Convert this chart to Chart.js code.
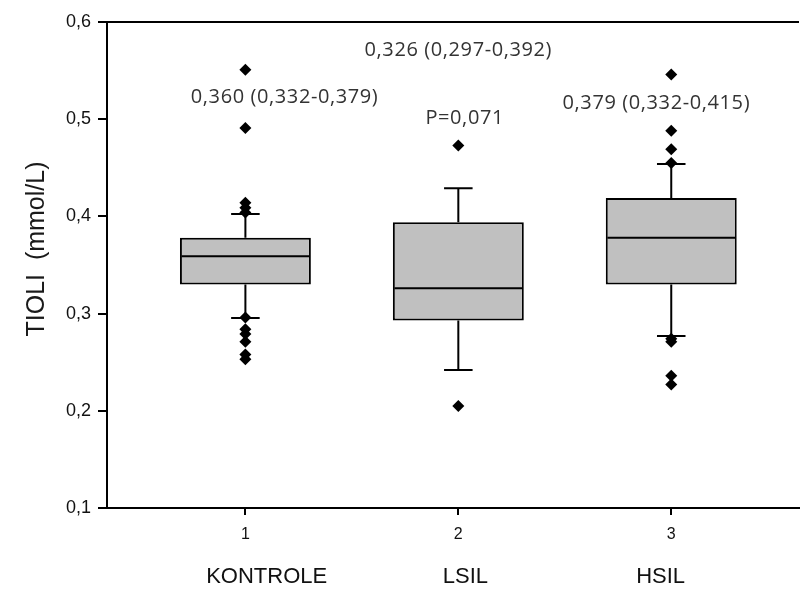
<!DOCTYPE html>
<html lang="hr">
<head>
    <meta charset="UTF-8">
    <title>TIOLI boxplot</title>
    <script src="https://cdn.jsdelivr.net/npm/chart.js"></script>
    <style>
        body { margin: 0; background: #fff; }
        #wrap { width: 805px; height: 589px; }
    </style>
</head>
<body>
    <div id="wrap"><canvas id="tioliChart" width="805" height="589"></canvas></div>

    <script>
    // podaci ocitani sa slike
    const groups = ['KONTROLE', 'LSIL', 'HSIL'];
    const xPos = [1, 2, 3];
    const q1 = [0.330, 0.293, 0.330];
    const median = [0.359, 0.326, 0.378];
    const q3 = [0.378, 0.394, 0.419];
    const whiskerLow = [0.2955, 0.242, 0.277];
    const whiskerHigh = [0.4025, 0.429, 0.454];
    const outliers = [
        [0.404, 0.409, 0.414, 0.491, 0.551, 0.296, 0.284, 0.279, 0.271, 0.258, 0.253],
        [0.473, 0.205],
        [0.455, 0.469, 0.488, 0.546, 0.274, 0.271, 0.236, 0.227]
    ];
    const yTicks = [0.1, 0.2, 0.3, 0.4, 0.5, 0.6];
    const notes = ['0,360 (0,332-0,379)', '0,326 (0,297-0,392)', 'P=0,071', '0,379 (0,332-0,415)'];
    const noteX = [1.184, 2.0, 2.03, 2.93];
    const noteY = [0.523, 0.571, 0.501, 0.516];
    const groupLabelX = [1.1, 2.033, 2.95];

    const boxHalf = 0.3;
    const capHalf = 0.067;

    const fmt = v => v.toFixed(1).replace('.', ',');

    // segmenti linija, razdvojeni praznom tockom
    function segs(list) {
        const out = [];
        list.forEach(([xa, ya, xb, yb]) => {
            out.push({ x: xa, y: ya }, { x: xb, y: yb }, { x: xb, y: null });
        });
        return out;
    }

    const medianLines = segs(xPos.map((x, i) => [x - boxHalf, median[i], x + boxHalf, median[i]]));
    const whiskerLines = segs(xPos.flatMap((x, i) => [
        [x, q3[i], x, whiskerHigh[i]],
        [x, q1[i], x, whiskerLow[i]],
        [x - capHalf, whiskerHigh[i], x + capHalf, whiskerHigh[i]],
        [x - capHalf, whiskerLow[i], x + capHalf, whiskerLow[i]]
    ]));
    const outlierPoints = xPos.flatMap((x, i) => outliers[i].map(v => ({ x: x, y: v })));

    const extrasPlugin = {
        id: 'extras',
        afterDraw(chart) {
            const { ctx, chartArea: { top, left, right, bottom }, scales: { x, y } } = chart;
            ctx.save();
            ctx.strokeStyle = '#000';
            ctx.lineWidth = 2;
            // gornji rub
            ctx.beginPath();
            ctx.moveTo(left - 1, top);
            ctx.lineTo(right, top);
            ctx.stroke();
            // crtice na osi x
            ctx.beginPath();
            xPos.forEach(v => {
                const px = Math.round(x.getPixelForValue(v));
                ctx.moveTo(px, bottom);
                ctx.lineTo(px, bottom + 7);
            });
            ctx.stroke();

            // naslov osi y
            ctx.fillStyle = '#1a1a1a';
            ctx.font = '25px "Liberation Sans", Arial, sans-serif';
            ctx.textAlign = 'center';
            ctx.textBaseline = 'alphabetic';
            ctx.translate(44, 249);
            ctx.rotate(-Math.PI / 2);
            ctx.fillText('TIOLI  (mmol/L)', 0, 0);
            ctx.restore();

            ctx.save();
            // nazivi skupina
            ctx.fillStyle = '#111';
            ctx.font = '22px "Liberation Sans", Arial, sans-serif';
            ctx.textAlign = 'center';
            ctx.textBaseline = 'alphabetic';
            groups.forEach((g, i) => {
                ctx.fillText(g, x.getPixelForValue(groupLabelX[i]), bottom + 75);
            });

            // biljeske
            ctx.fillStyle = '#333';
            ctx.font = '20px "Open Sans", sans-serif';
            ctx.letterSpacing = '0.6px';
            ctx.textBaseline = 'middle';
            notes.forEach((t, i) => {
                ctx.fillText(t, x.getPixelForValue(noteX[i]), y.getPixelForValue(noteY[i]));
            });
            ctx.restore();
        }
    };

    const ctx = document.getElementById('tioliChart').getContext('2d');
    new Chart(ctx, {
        type: 'bar',
        data: {
            datasets: [
                {
                    type: 'scatter',
                    data: outlierPoints,
                    pointStyle: 'rectRot',
                    pointRadius: 6,
                    backgroundColor: '#000',
                    borderWidth: 0,
                    order: 1
                },
                {
                    type: 'line',
                    data: medianLines,
                    borderColor: '#000',
                    borderWidth: 2,
                    pointRadius: 0,
                    spanGaps: false,
                    tension: 0,
                    order: 2
                },
                {
                    type: 'line',
                    data: whiskerLines,
                    borderColor: '#000',
                    borderWidth: 2,
                    pointRadius: 0,
                    spanGaps: false,
                    tension: 0,
                    order: 3
                },
                {
                    type: 'bar',
                    data: xPos.map((x, i) => ({ x: x, y: [q1[i], q3[i]] })),
                    backgroundColor: '#c0c0c0',
                    borderColor: '#000',
                    borderWidth: 2,
                    borderSkipped: false,
                    barPercentage: 0.615,
                    categoryPercentage: 1,
                    order: 4
                }
            ]
        },
        options: {
            responsive: false,
            animation: false,
            layout: { padding: { top: 22, right: 0, left: 0, bottom: 0 } },
            plugins: {
                legend: { display: false },
                tooltip: { enabled: false }
            },
            scales: {
                x: {
                    type: 'linear',
                    min: 0.35,
                    max: 3.6,
                    offset: false,
                    afterBuildTicks: s => { s.ticks = xPos.map(v => ({ value: v })); },
                    afterFit: s => { s.height = 81; },
                    border: { color: '#000', width: 2 },
                    grid: { offset: false, drawOnChartArea: false, drawTicks: true, tickLength: 7, color: '#000', lineWidth: 2 },
                    ticks: {
                        padding: 10,
                        color: '#111',
                        font: { family: '"Liberation Sans", Arial, sans-serif', size: 16 },
                        callback: v => String(v)
                    }
                },
                y: {
                    min: 0.1,
                    max: 0.6,
                    afterBuildTicks: s => { s.ticks = yTicks.map(v => ({ value: v })); },
                    afterFit: s => { s.width = 107; },
                    border: { color: '#000', width: 2 },
                    grid: { drawOnChartArea: false, drawTicks: true, tickLength: 9, color: '#000', lineWidth: 2 },
                    ticks: {
                        padding: 7,
                        color: '#111',
                        font: { family: '"Liberation Sans", Arial, sans-serif', size: 18 },
                        callback: v => fmt(v)
                    }
                }
            }
        },
        plugins: [extrasPlugin]
    });
    </script>
</body>
</html>
